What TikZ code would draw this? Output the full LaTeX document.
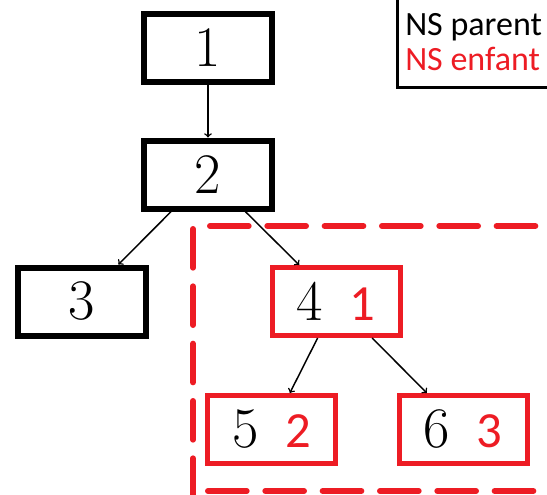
\documentclass[tikz,border=0pt]{standalone}
\usepackage{fontspec}
\newfontfamily\calibri{Carlito}
\definecolor{nsred}{RGB}{237,28,36}
\newcommand{\nsnum}[1]{\hspace{20pt}{\calibri\fontsize{38}{44}\selectfont\color{nsred}#1}}

\begin{document}
\begin{tikzpicture}[x=0.75pt, y=-0.75pt,
    parent/.style={draw, line width=4.5pt, minimum width=96pt, minimum height=51pt, inner sep=0pt, font=\fontsize{43}{50}\selectfont},
    enfant/.style={parent, draw=nsred, line width=3.75pt},
    fleche/.style={->, line width=1.1pt},
    cadre/.style={nsred, line width=4.5pt, line cap=round, dash pattern=on 29pt off 14pt}]
    \useasboundingbox (0,0) rectangle (547,494);
    % zone fille
    \draw[cadre, dash phase=40.75pt] (193,226) -- (193,510);
    \draw[cadre, dash phase=30.25pt] (193,226) -- (570,226);
    \draw[cadre, dash phase=31.75pt] (193,491) -- (570,491);
    % arbre
    \node[parent] (n1) at (208, 47.5) {1};
    \node[parent] (n2) at (208, 174.5) {2};
    \node[parent] (n3) at (81.5, 301.5) {3};
    \node[enfant] (n4) at (336, 301.5) {4\nsnum{1}};
    \node[enfant] (n5) at (271.5, 429.5) {5\nsnum{2}};
    \node[enfant] (n6) at (463, 429.5) {6\nsnum{3}};
    \draw[fleche] (n1) -- (n2);
    \draw[fleche] (n2) -- (n3);
    \draw[fleche] (n2) -- (n4);
    \draw[fleche] (n4) -- (n5);
    \draw[fleche] (n4) -- (n6);
    % legende
    \draw[line width=2.25pt] (397,-5) -- (397,87) -- (570,87);
    \node[anchor=base west, inner sep=0pt, font=\calibri\fontsize{25.5}{30}\selectfont] (legparent) at (405,35) {NS parent};
    \node[anchor=base west, inner sep=0pt, font=\calibri\fontsize{25.5}{30}\selectfont, text=nsred] (legenfant) at (405,70) {NS enfant};
\end{tikzpicture}
\end{document}
